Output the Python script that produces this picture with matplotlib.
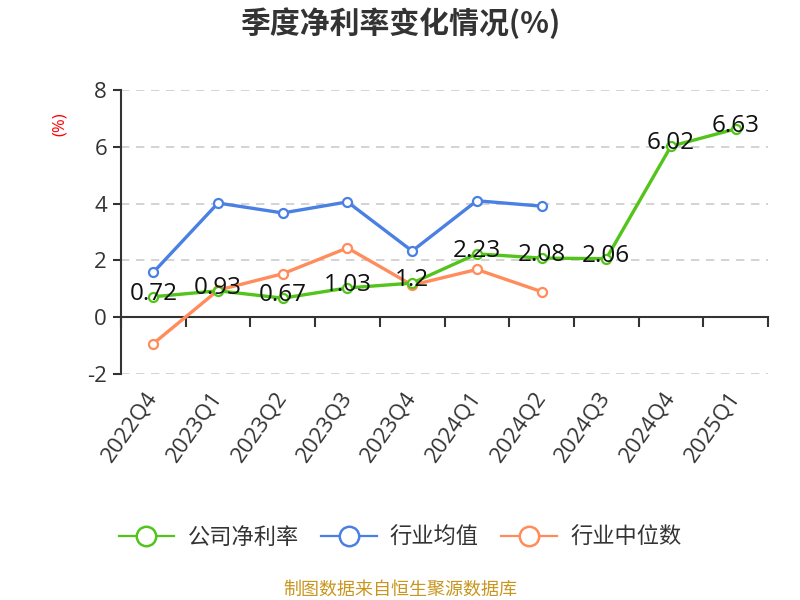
import matplotlib
matplotlib.use('Agg')
import matplotlib.pyplot as plt
from matplotlib.lines import Line2D

plt.rcParams['font.family'] = ['Open Sans', 'Noto Sans CJK SC', 'DejaVu Sans']
plt.rcParams['axes.unicode_minus'] = False

quarters = ['2022Q4', '2023Q1', '2023Q2', '2023Q3', '2023Q4',
            '2024Q1', '2024Q2', '2024Q3', '2024Q4', '2025Q1']
company = [0.72, 0.93, 0.67, 1.03, 1.2, 2.23, 2.08, 2.06, 6.02, 6.63]
industry_avg = [1.58, 4.02, 3.67, 4.06, 2.33, 4.10, 3.91]
industry_med = [-0.93, 0.95, 1.53, 2.44, 1.13, 1.68, 0.90]

names = ['公司净利率', '行业均值', '行业中位数']
colors = ['#52c41a', '#4a80e3', '#ff8c5a']
cjk = ['Noto Sans CJK SC', 'DejaVu Sans']

fig = plt.figure(figsize=(8, 6), dpi=100)
ax = fig.add_axes([0.15125, 0.3767, 0.80875, 0.4733])

x_all = list(range(len(quarters)))
# draw back to front so the company line sits behind the others like the reference
for vals, c in zip([industry_avg, industry_med, company], [colors[1], colors[2], colors[0]]):
    ax.plot(x_all[:len(vals)], vals, color=c, lw=2.4, marker='o', ms=6.5,
            mfc='white', mec=c, mew=1.6, zorder=3)

for i, v in enumerate(company):
    ax.annotate(str(v), (i, v), xytext=(0, 2), textcoords='offset points',
                ha='center', va='center', fontsize=17.5, color='#111111', zorder=5)

ax.set_xlim(-0.5, len(quarters) - 0.5)
ax.set_ylim(-2, 8)
ax.set_yticks([-2, 0, 2, 4, 6, 8])
for y in [-2, 2, 4, 6, 8]:
    ax.axhline(y, color='#cccccc', lw=1.2, ls=(0, (5, 4)), zorder=1)

for s in ['top', 'right']:
    ax.spines[s].set_visible(False)
ax.spines['left'].set_color('#333333')
ax.spines['left'].set_linewidth(1.5)
ax.spines['bottom'].set_position(('data', 0))
ax.spines['bottom'].set_color('#333333')
ax.spines['bottom'].set_linewidth(1.5)

ax.tick_params(axis='y', length=6, width=1.5, color='#333333',
               labelsize=16, labelcolor='#333333', pad=4)
ax.set_xticks([i - 0.5 for i in range(len(quarters) + 1)])
ax.set_xticklabels([])
ax.tick_params(axis='x', length=7, width=1.5, color='#333333', direction='out')

sec = ax.secondary_xaxis(0.0)
sec.set_xticks(x_all)
sec.set_xticklabels(quarters, rotation=55, ha='right', va='center',
                    rotation_mode='anchor', fontsize=16, color='#333333')
sec.tick_params(length=0, pad=14)
sec.spines['bottom'].set_visible(False)

ax.text(-0.095, 0.88, '(%)', transform=ax.transAxes, rotation=90,
        color='red', fontsize=12, ha='center', va='center')

fig.text(0.5, 0.962, '季度净利率变化情况(%)', ha='center', va='center',
         fontsize=21.5, fontweight='bold', color='#333333', family=cjk)

handles = [Line2D([], [], color=c, lw=1.6, marker='o', ms=14, mfc='white',
                  mec=c, mew=1.8) for c in colors]
fig.legend(handles, names, loc='center', bbox_to_anchor=(0.5, 0.105),
           ncol=3, frameon=False, handlelength=2.5,
           columnspacing=1.0, handletextpad=0.6, labelcolor='#333333',
           prop={'family': cjk, 'size': 16})

fig.text(0.5, 0.017, '制图数据来自恒生聚源数据库', ha='center', va='center',
         fontsize=13, color='#c8961e', family=cjk)

fig.savefig('out.png', dpi=100)
